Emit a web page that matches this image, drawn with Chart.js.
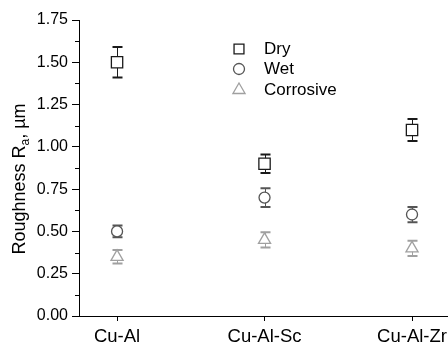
<!DOCTYPE html>
<html>
<head>
<meta charset="utf-8">
<script src="https://cdn.jsdelivr.net/npm/chart.js@4"></script>
<style>
  html, body { margin: 0; padding: 0; background: #fff; }
  #wrap { width: 448px; height: 344px; position: relative; }
</style>
</head>
<body>
<div id="wrap"><canvas id="chart"></canvas></div>
<script>
// samples on the x axis
const categories = ['Cu-Al', 'Cu-Al-Sc', 'Cu-Al-Zr'];

// roughness Ra (um) and error bar half-widths
const dry = [1.50, 0.90, 1.10];
const dryErr = [0.09, 0.055, 0.065];
const wet = [0.50, 0.70, 0.60];
const wetErr = [0.035, 0.055, 0.045];
const corrosive = [0.35, 0.45, 0.40];
const corrosiveErr = [0.04, 0.045, 0.045];

const yTicks = [0, 0.25, 0.5, 0.75, 1.0, 1.25, 1.5, 1.75];

const FONT = "'Liberation Sans', Arial, sans-serif";

const toPoints = vals => vals.map((v, i) => ({ x: i, y: v }));

const series = [
    { label: 'Dry', data: dry, err: dryErr, color: '#1a1a1a', style: 'rect', radius: 8 },
    { label: 'Wet', data: wet, err: wetErr, color: '#555555', style: 'circle', radius: 5.5 },
    { label: 'Corrosive', data: corrosive, err: corrosiveErr, color: '#a0a0a0', style: 'triangle', radius: 7 }
];

// error bars, drawn under the (white filled) markers
const errorBars = {
    id: 'errorBars',
    beforeDatasetsDraw(chart) {
        const ctx = chart.ctx;
        const xs = chart.scales.x, ys = chart.scales.y;
        ctx.save();
        series.forEach(s => {
            ctx.strokeStyle = s.color;
            s.data.forEach((v, i) => {
                const px = Math.round(xs.getPixelForValue(i)) + 0.5;
                const top = ys.getPixelForValue(v + s.err[i]);
                const bot = ys.getPixelForValue(v - s.err[i]);
                ctx.lineWidth = 1;
                ctx.beginPath();
                ctx.moveTo(px, top);
                ctx.lineTo(px, bot);
                ctx.stroke();
                ctx.lineWidth = 2;
                ctx.beginPath();
                ctx.moveTo(px - 5, top);
                ctx.lineTo(px + 5, top);
                ctx.moveTo(px - 5, bot);
                ctx.lineTo(px + 5, bot);
                ctx.stroke();
            });
        });
        ctx.restore();
    },
    afterDraw(chart) {
        const ctx = chart.ctx;
        const ys = chart.scales.y;
        const left = chart.chartArea.left;
        ctx.save();

        // minor ticks on y
        ctx.strokeStyle = '#000';
        ctx.lineWidth = 1;
        for (let i = 0; i < yTicks.length - 1; i++) {
            const py = Math.round(ys.getPixelForValue((yTicks[i] + yTicks[i + 1]) / 2)) + 0.5;
            ctx.beginPath();
            ctx.moveTo(left - 4, py);
            ctx.lineTo(left, py);
            ctx.stroke();
        }

        // y axis title with subscript
        ctx.translate(20, 179);
        ctx.rotate(-Math.PI / 2);
        ctx.fillStyle = '#000';
        ctx.textBaseline = 'middle';
        ctx.textAlign = 'left';
        const big = '18px ' + FONT, small = '12px ' + FONT;
        const p1 = 'Roughness R', p2 = 'a', p3 = ', \u00b5m';
        ctx.font = big;
        const w1 = ctx.measureText(p1).width, w3 = ctx.measureText(p3).width;
        ctx.font = small;
        const w2 = ctx.measureText(p2).width;
        let x0 = -(w1 + w2 + w3) / 2;
        ctx.font = big;
        ctx.fillText(p1, x0, 0);
        ctx.font = small;
        ctx.fillText(p2, x0 + w1, 6);
        ctx.font = big;
        ctx.fillText(p3, x0 + w1 + w2, 0);
        ctx.setTransform(1, 0, 0, 1, 0, 0);

        // legend inside the plot
        const lx = 239, ly = [49, 69, 90];
        series.forEach((s, i) => {
            ctx.strokeStyle = s.color;
            ctx.fillStyle = '#fff';
            ctx.lineWidth = 1.3;
            const r = s.style === 'rect' ? 7 : s.radius;
            Chart.helpers.drawPoint(ctx, { pointStyle: s.style, radius: r, rotation: 0, borderWidth: 1.3 }, lx, ly[i]);
            ctx.fillStyle = '#000';
            ctx.font = '17px ' + FONT;
            ctx.textBaseline = 'middle';
            ctx.textAlign = 'left';
            ctx.fillText(s.label, 264, ly[i]);
        });
        ctx.restore();
    }
};

new Chart(document.getElementById('chart'), {
    type: 'scatter',
    data: {
        datasets: series.map(s => ({
            label: s.label,
            data: toPoints(s.data),
            pointStyle: s.style,
            pointRadius: s.radius,
            pointHoverRadius: s.radius,
            backgroundColor: '#fff',
            borderColor: s.color,
            borderWidth: 1.3
        }))
    },
    options: {
        responsive: true,
        maintainAspectRatio: false,
        animation: false,
        layout: { autoPadding: false, padding: { top: 20, right: 0, left: 0, bottom: 0 } },
        plugins: { legend: { display: false }, tooltip: { enabled: false } },
        scales: {
            x: {
                type: 'linear',
                min: -0.258,
                max: 2.244,
                afterBuildTicks: s => { s.ticks = categories.map((c, i) => ({ value: i })); },
                afterFit: s => { s.height = 28; s.paddingLeft = 0; s.paddingRight = 0; },
                ticks: {
                    autoSkip: false, maxRotation: 0, color: '#000', padding: 5,
                    font: { family: FONT, size: 18.5 },
                    callback: v => categories[v]
                },
                grid: { drawOnChartArea: false, tickLength: 5, color: '#000' },
                border: { color: '#000', width: 1 }
            },
            y: {
                min: 0,
                max: 1.75,
                afterBuildTicks: s => { s.ticks = yTicks.map(v => ({ value: v })); },
                afterFit: s => { s.width = 79; s.paddingTop = 0; s.paddingBottom = 0; },
                ticks: {
                    color: '#000', padding: 4,
                    font: { family: FONT, size: 16 },
                    callback: v => v.toFixed(2)
                },
                grid: { drawOnChartArea: false, tickLength: 7, color: '#000' },
                border: { color: '#000', width: 1 }
            }
        }
    },
    plugins: [errorBars]
});
</script>
</body>
</html>
